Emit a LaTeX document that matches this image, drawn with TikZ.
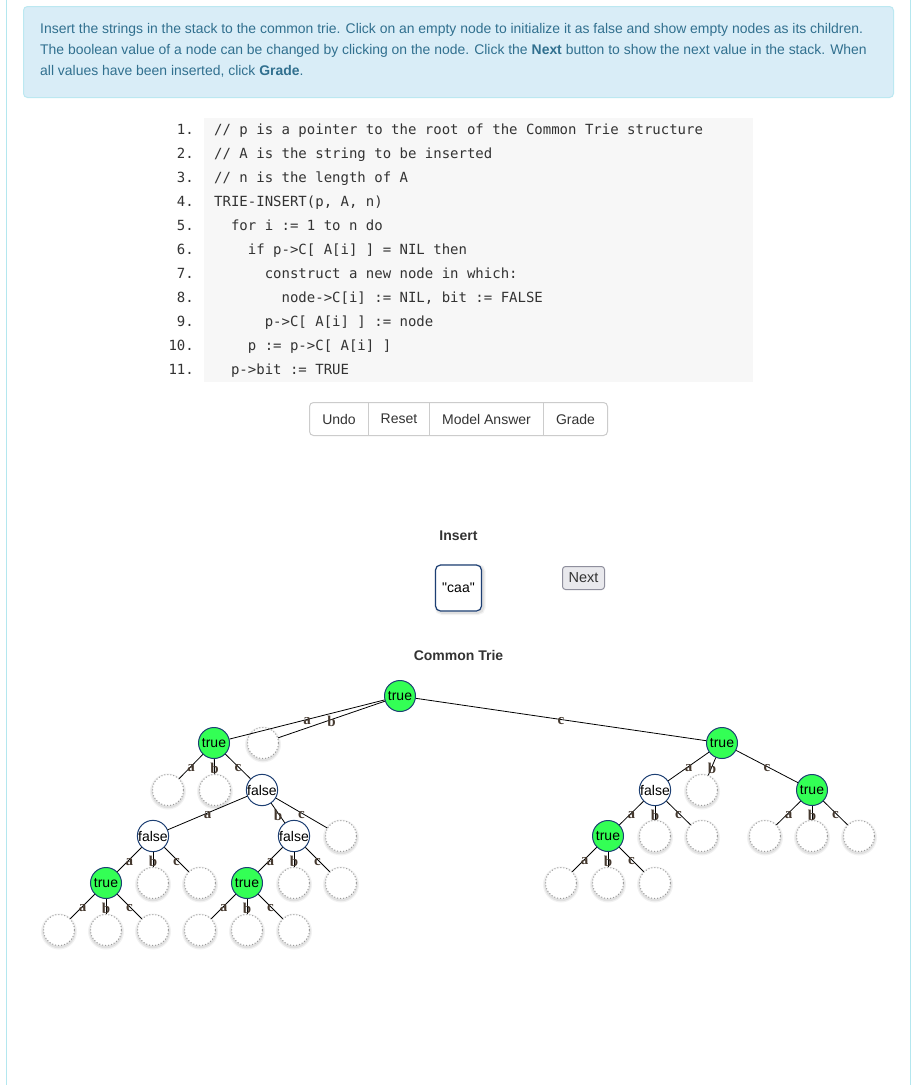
\documentclass[tikz,border=0pt]{standalone}
\usepackage{fontspec}
\newfontfamily\uisans{Liberation Sans}
\newfontfamily\infofont[FakeStretch=0.995]{Liberation Sans}
\newfontfamily\codefont{DejaVu Sans Mono}
\newfontfamily\lblserif{Liberation Serif}
\definecolor{infofill}{HTML}{D9EDF7}
\definecolor{infoborder}{HTML}{BCE8F1}
\definecolor{infotext}{HTML}{31708F}
\definecolor{pageline}{HTML}{B4E7EF}
\definecolor{codebg}{HTML}{F7F7F7}
\definecolor{darktext}{HTML}{333333}
\definecolor{btnborder}{HTML}{CCCCCC}
\definecolor{navy}{HTML}{1D3F73}
\definecolor{nodegreen}{HTML}{33FF55}
\definecolor{emptyborder}{HTML}{9A9A9A}
\definecolor{lblcol}{HTML}{45392F}
\definecolor{nextfill}{HTML}{E9E9ED}
\definecolor{nextborder}{HTML}{8F8F9D}
\tikzset{
  infoline/.style={anchor=base west, inner sep=0pt, text=infotext, font=\infofont\fontsize{14}{17}\selectfont},
  codeline/.style={anchor=base west, inner sep=0pt, text=darktext, font=\codefont\fontsize{14}{17}\selectfont},
  lineno/.style={anchor=base east, inner sep=0pt, text=darktext, font=\codefont\fontsize{14}{17}\selectfont},
  btntext/.style={inner sep=0pt, text=darktext, font=\uisans\fontsize{14}{17}\selectfont},
  heading/.style={inner sep=0pt, text=darktext, font=\uisans\bfseries\fontsize{14}{17}\selectfont},
  trienode/.style={circle, minimum size=31pt, inner sep=0pt, line width=1pt, font=\uisans\fontsize{14}{17}\selectfont, text=black},
  tnode/.style={trienode, draw=navy, fill=nodegreen},
  fnode/.style={trienode, draw=navy, fill=white},
  enode/.style={trienode, draw=emptyborder, dash pattern=on 1pt off 2pt, fill=white,
     preaction={draw=black, draw opacity=0.05, line width=5pt, solid, transform canvas={yshift=-1.5pt}},
     preaction={draw=black, draw opacity=0.07, line width=2.5pt, solid, transform canvas={yshift=-1.5pt}}},
  stackbox/.style={draw=navy, line width=1.2pt, rounded corners=5pt, fill=white, minimum width=46pt, minimum height=46pt, inner sep=0pt,
     preaction={draw=black, draw opacity=0.05, line width=5pt, transform canvas={xshift=1.5pt, yshift=-1.5pt}},
     preaction={draw=black, draw opacity=0.07, line width=2.5pt, transform canvas={xshift=1.5pt, yshift=-1.5pt}},
     font=\uisans\fontsize{14}{17}\selectfont, text=black},
  edge/.style={draw=black, line width=0.8pt},
  elabel/.style={midway, inner sep=0pt, yshift=-2pt, text=lblcol, font=\lblserif\bfseries\fontsize{15}{17}\selectfont},
}
\begin{document}
\begin{tikzpicture}[x=1pt,y=-1pt]
\useasboundingbox (0,0) rectangle (915,1085);
\fill[white] (0,0) rectangle (915,1085);
% page side lines
\draw[pageline, line width=1pt] (6,0) -- (6,1085);
\draw[pageline, line width=1pt] (910.5,0) -- (910.5,1085);

% info box
\draw[fill=infofill, draw=infoborder, line width=1pt, rounded corners=4pt] (23.5,6.5) rectangle (893.5,97.5);
\node[infoline] (info1) at (40,33) {Insert the strings in the stack to the common trie. Click on an empty node to initialize it as false and show empty nodes as its children.};
\node[infoline] (info2) at (40,54) {The boolean value of a node can be changed by clicking on the node. Click the \textbf{Next} button to show the next value in the stack. When};
\node[infoline] (info3) at (40,75) {all values have been inserted, click \textbf{Grade}.};

% code block
\fill[codebg] (204,118) rectangle (753,382);
\foreach \n/\k/\t [count=\i] in {
  1/0/{// p is a pointer to the root of the Common Trie structure},
  2/0/{// A is the string to be inserted},
  3/0/{// n is the length of A},
  4/0/{TRIE-INSERT(p, A, n)},
  5/1/{for i := 1 to n do},
  6/2/{if p->C[ A[i] ] = NIL then},
  7/3/{construct a new node in which:},
  8/4/{node->C[i] := NIL, bit := FALSE},
  9/3/{p->C[ A[i] ] := node},
  10/2/{p := p->C[ A[i] ]},
  11/1/{p->bit := TRUE}}{
  \node[lineno] (num\n) at (194, 110+24*\n) {\n.};
  \node[codeline] (code\n) at (214+16.86*\k, 110+24*\n) {\t};
}

% button group
\draw[btnborder, line width=1pt, rounded corners=4pt] (309.5,402.5) rectangle (607.5,435.5);
\draw[btnborder, line width=1pt] (368.5,402.5) -- (368.5,435.5);
\draw[btnborder, line width=1pt] (429.5,402.5) -- (429.5,435.5);
\draw[btnborder, line width=1pt] (543.5,402.5) -- (543.5,435.5);
\node[btntext] (undo) at (339,419) {Undo};
\node[btntext] (reset) at (399,419) {Reset};
\node[btntext] (model) at (486.5,419) {Model Answer};
\node[btntext] (grade) at (575.5,419) {Grade};

% insert area
\node[heading] (insert) at (458.5,536) {Insert};
\node[stackbox] (stack) at (458.5,588) {"caa"};
\node[draw=nextborder, fill=nextfill, line width=1pt, rounded corners=3pt, minimum width=42pt, minimum height=23pt, inner sep=0pt,
  font=\uisans\fontsize{14.5}{17}\selectfont, text=darktext] (next) at (583.5,578) {Next};
\node[heading] (ctitle) at (458.5,655) {Common Trie};

% trie nodes
\node[tnode] (r) at (400,696) {true};
\node[tnode] (A) at (214,743) {true};
\node[enode] (B) at (263,743) {};
\node[tnode] (C) at (722,743) {true};
\node[enode] (Aa) at (168,790) {};
\node[enode] (Ab) at (215,790) {};
\node[fnode] (Ac) at (262,790) {false};
\node[fnode] (Ca) at (655,790) {false};
\node[enode] (Cb) at (702,790) {};
\node[tnode] (Cc) at (812,790) {true};
\node[fnode] (Aca) at (153,836) {false};
\node[fnode] (Acb) at (294,836) {false};
\node[enode] (Acc) at (341,836) {};
\node[tnode] (Caa) at (608,836) {true};
\node[enode] (Cab) at (655,836) {};
\node[enode] (Cac) at (702,836) {};
\node[enode] (Cca) at (765,836) {};
\node[enode] (Ccb) at (812,836) {};
\node[enode] (Ccc) at (859,836) {};
\node[tnode] (Acaa) at (106,883) {true};
\node[enode] (Acab) at (153,883) {};
\node[enode] (Acac) at (200,883) {};
\node[tnode] (Acba) at (247,883) {true};
\node[enode] (Acbb) at (294,883) {};
\node[enode] (Acbc) at (341,883) {};
\node[enode] (Caaa) at (561,883) {};
\node[enode] (Caab) at (608,883) {};
\node[enode] (Caac) at (655,883) {};
\node[enode] (Acaaa) at (59,930) {};
\node[enode] (Acaab) at (106,930) {};
\node[enode] (Acaac) at (153,930) {};
\node[enode] (Acbaa) at (200,930) {};
\node[enode] (Acbab) at (247,930) {};
\node[enode] (Acbac) at (294,930) {};

% trie edges
\foreach \p/\c/\l in {r/A/a, r/B/b, r/C/c,
  A/Aa/a, A/Ab/b, A/Ac/c,
  C/Ca/a, C/Cb/b, C/Cc/c,
  Ac/Aca/a, Ac/Acb/b, Ac/Acc/c,
  Ca/Caa/a, Ca/Cab/b, Ca/Cac/c,
  Cc/Cca/a, Cc/Ccb/b, Cc/Ccc/c,
  Aca/Acaa/a, Aca/Acab/b, Aca/Acac/c,
  Acb/Acba/a, Acb/Acbb/b, Acb/Acbc/c,
  Caa/Caaa/a, Caa/Caab/b, Caa/Caac/c,
  Acaa/Acaaa/a, Acaa/Acaab/b, Acaa/Acaac/c,
  Acba/Acbaa/a, Acba/Acbab/b, Acba/Acbac/c}{
  \draw[edge] (\p) -- (\c) node[elabel] {\l};
}
\end{tikzpicture}
\end{document}
